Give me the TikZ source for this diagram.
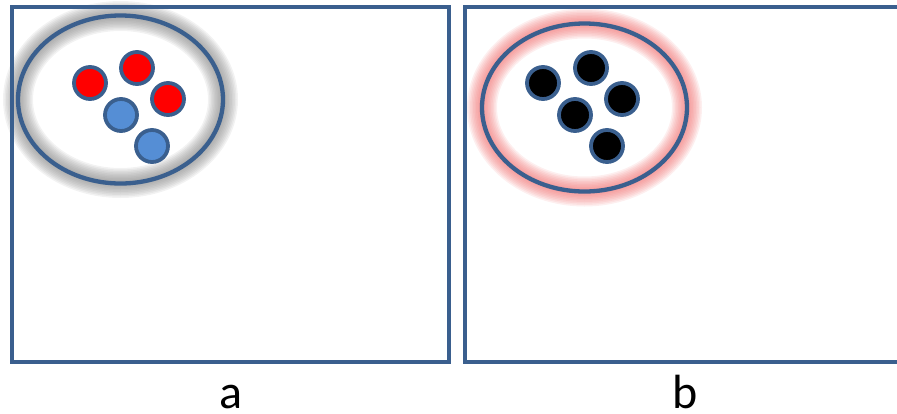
\documentclass[tikz,border=0pt]{standalone}
\usepackage{fontspec}
\setmainfont{Carlito}
\usepackage{xcolor}
\definecolor{mybd}          {RGB}{58, 95, 142}
\definecolor{mylb}          {RGB}{85, 142, 213}
\definecolor{myr}           {RGB}{255, 0, 0}
\definecolor{mypk}          {RGB}{240, 110, 110}
\usetikzlibrary{shapes.geometric}

\begin{document}
\begin{tikzpicture}[x=1pt, y=-1pt,
        panel/.style={draw=mybd, line width=4pt, minimum width=#1, minimum height=355pt, inner sep=0pt},
        setring/.style={ellipse, draw=mybd, line width=4.3pt, minimum width=205pt, minimum height=168pt, inner sep=0pt},
        dot/.style={circle, draw=mybd, line width=3.8pt, fill=#1, minimum size=32pt, inner sep=0pt},
        lab/.style={font=\fontsize{48}{50}\selectfont, anchor=base, inner sep=0pt}]
        \useasboundingbox (0, 0) rectangle (897, 413);
        \clip (0, 0) rectangle (897, 413);
        % soft glow round both rings
        \foreach \w in {6, 9, ..., 30} {
            \draw[black!50, opacity=0.1, line width=\w pt] (120.5, 99.5) ellipse [x radius=102.5, y radius=83.5];
            \draw[mypk, opacity=0.11, line width=\w pt] (584.5, 107.5) ellipse [x radius=102.5, y radius=84];
        }
        \node[panel=437pt] (panA) at (230.5, 184.5) {};
        \node[panel=440pt] (panB) at (685, 184.5) {};
        \node[setring] (setA) at (120.5, 99.5) {};
        \node[setring] (setB) at (584.5, 107.5) {};
        % panel a
        \node[dot=myr] (redA1) at (90, 83) {};
        \node[dot=myr] (redA2) at (137, 68) {};
        \node[dot=myr] (redA3) at (168, 99) {};
        \node[dot=mylb] (blueA1) at (121, 115) {};
        \node[dot=mylb] (blueA2) at (152, 146) {};
        % panel b
        \node[dot=black] (blkB1) at (543, 83) {};
        \node[dot=black] (blkB2) at (591, 68) {};
        \node[dot=black] (blkB3) at (622, 99) {};
        \node[dot=black] (blkB4) at (575, 115) {};
        \node[dot=black] (blkB5) at (607, 146) {};
        \node[lab] (labA) at (230.5, 408) {a};
        \node[lab] (labB) at (685, 408) {b};
    \end{tikzpicture}
\end{document}
